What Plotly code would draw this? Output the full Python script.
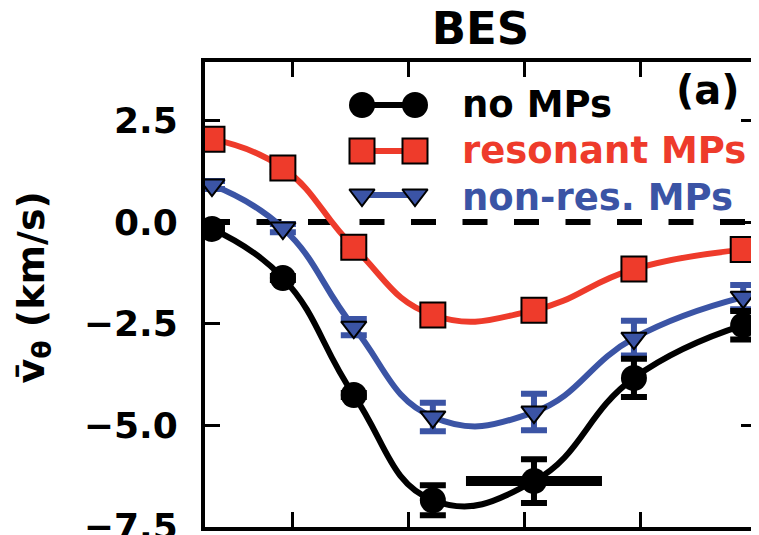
import plotly.graph_objects as go

# ---- data ----
x_pos = [0.31, 0.92, 1.53, 2.21, 3.08, 3.94, 4.88]
no_mps = [-0.17, -1.38, -4.26, -6.85, -6.38, -3.84, -2.54]
no_mps_err = [0.05, 0.05, 0.05, 0.37, 0.54, 0.47, 0.35]
no_mps_xerr = [0, 0, 0, 0, 0.585, 0, 0]
res_mps = [2.04, 1.33, -0.62, -2.29, -2.17, -1.16, -0.68]
res_mps_err = [0.1, 0.1, 0.1, 0.12, 0.12, 0.12, 0.1]
nonres_mps = [0.91, -0.15, -2.59, -4.80, -4.68, -2.86, -1.85]
nonres_mps_err = [0.1, 0.1, 0.2, 0.35, 0.45, 0.43, 0.3]

y_ticks = [-7.5, -5.0, -2.5, 0.0, 2.5]
x_ticks = [1, 2, 3, 4]

series_names = ["no MPs", "resonant MPs", "non-res. MPs"]
BLACK = "#000000"
RED = "#EE3B2B"
BLUE = "#3B54A5"

FONT = "DejaVu Sans"

fig = go.Figure()

# smooth curves
for yv, col in [(no_mps, BLACK), (res_mps, RED), (nonres_mps, BLUE)]:
    fig.add_trace(go.Scatter(
        x=x_pos, y=yv, mode="lines",
        line=dict(color=col, width=6, shape="spline", smoothing=1.3),
        showlegend=False, hoverinfo="skip"))

# markers with error bars
fig.add_trace(go.Scatter(
    x=x_pos, y=res_mps, mode="markers",
    marker=dict(symbol="square", size=25, color=RED, line=dict(color="black", width=2)),
    error_y=dict(type="data", array=res_mps_err, color=RED, thickness=6, width=13),
    showlegend=False))
fig.add_trace(go.Scatter(
    x=x_pos, y=nonres_mps, mode="markers",
    marker=dict(symbol="triangle-down", size=22, color=BLUE, line=dict(color="black", width=2)),
    error_y=dict(type="data", array=nonres_mps_err, color=BLUE, thickness=6, width=13),
    showlegend=False))
fig.add_trace(go.Scatter(
    x=x_pos, y=no_mps, mode="markers",
    marker=dict(symbol="circle", size=26, color=BLACK),
    error_y=dict(type="data", array=no_mps_err, color=BLACK, thickness=6, width=13),
    error_x=dict(type="data", array=no_mps_xerr, color=BLACK, thickness=10, width=0),
    showlegend=False))

# ---- custom legend (two markers joined by a line), overlay axes in plot pixels ----
leg_rows = [105, 151, 195]
leg_x = [362, 415]
leg_styles = [
    dict(symbol="circle", size=26, color=BLACK),
    dict(symbol="square", size=25, color=RED, line=dict(color="black", width=2)),
    dict(symbol="triangle-down", size=22, color=BLUE, line=dict(color="black", width=2)),
]
leg_cols = [BLACK, RED, BLUE]
for ry, st, col in zip(leg_rows, leg_styles, leg_cols):
    fig.add_trace(go.Scatter(
        x=leg_x, y=[ry, ry], mode="lines+markers", xaxis="x2", yaxis="y2",
        line=dict(color=col, width=6), marker=st, showlegend=False, hoverinfo="skip"))

for name, ry, col in zip(series_names, [104, 150, 197], leg_cols):
    fig.add_annotation(x=460, y=ry, xref="x2", yref="y2", text=name, showarrow=False,
                       xanchor="left", yanchor="middle",
                       font=dict(family=FONT, size=37, color=col, weight="bold"))

# panel label
fig.add_annotation(x=(742 - 205) / 551, y=(527 - 90) / 465, xref="paper", yref="paper",
                   text="(a)", showarrow=False, xanchor="right", yanchor="middle",
                   font=dict(family=FONT, size=40, color="black", weight="bold"))

# y-axis title
fig.add_annotation(x=(33 - 205) / 551, y=0.5 + (294 - 287) / 465, xref="paper", yref="paper",
                   text="v\u0304<sub>θ</sub> (km/s)", showarrow=False, textangle=-90,
                   xanchor="center", yanchor="middle",
                   font=dict(family=FONT, size=38, color="black", weight="bold"))

# dashed zero line
fig.add_shape(type="line", xref="paper", x0=0, x1=1, yref="y", y0=0, y1=0,
              line=dict(color="black", width=6, dash="25px,26.5px"), layer="below")

axis_common = dict(showgrid=False, zeroline=False, showline=True, linecolor="black",
                   linewidth=4, mirror="ticks", ticks="inside", ticklen=15, tickwidth=3,
                   tickcolor="black", automargin=False)

# page body has an 8px default margin -> compensate
OFF = 8
fig.update_layout(
    width=759, height=535,
    margin=dict(l=205 - OFF, r=759 - (756 - OFF), t=62 - OFF, b=535 - (527 - OFF),
                autoexpand=False),
    paper_bgcolor="white", plot_bgcolor="white",
    font=dict(family=FONT, size=36, color="black", weight="bold"),
    title=dict(text="BES", x=(480.5 - OFF) / 759, xanchor="center", y=1 - (28.5 - OFF) / 535,
               yanchor="middle", yref="container",
               font=dict(family=FONT, size=45, color="black", weight="bold")),
    xaxis=dict(range=[0.25, 4.99], tickvals=x_ticks, showticklabels=False, **axis_common),
    yaxis=dict(range=[-7.51, 3.94], tickvals=y_ticks, tickformat=".1f",
               ticklabelstandoff=16, ticklabeloverflow="allow", **axis_common),
    xaxis2=dict(overlaying="x", anchor="y2", range=[205, 756], visible=False, fixedrange=True),
    yaxis2=dict(overlaying="y", anchor="x2", range=[527, 62], visible=False, fixedrange=True),
    showlegend=False,
)

fig.write_html("out.html")
